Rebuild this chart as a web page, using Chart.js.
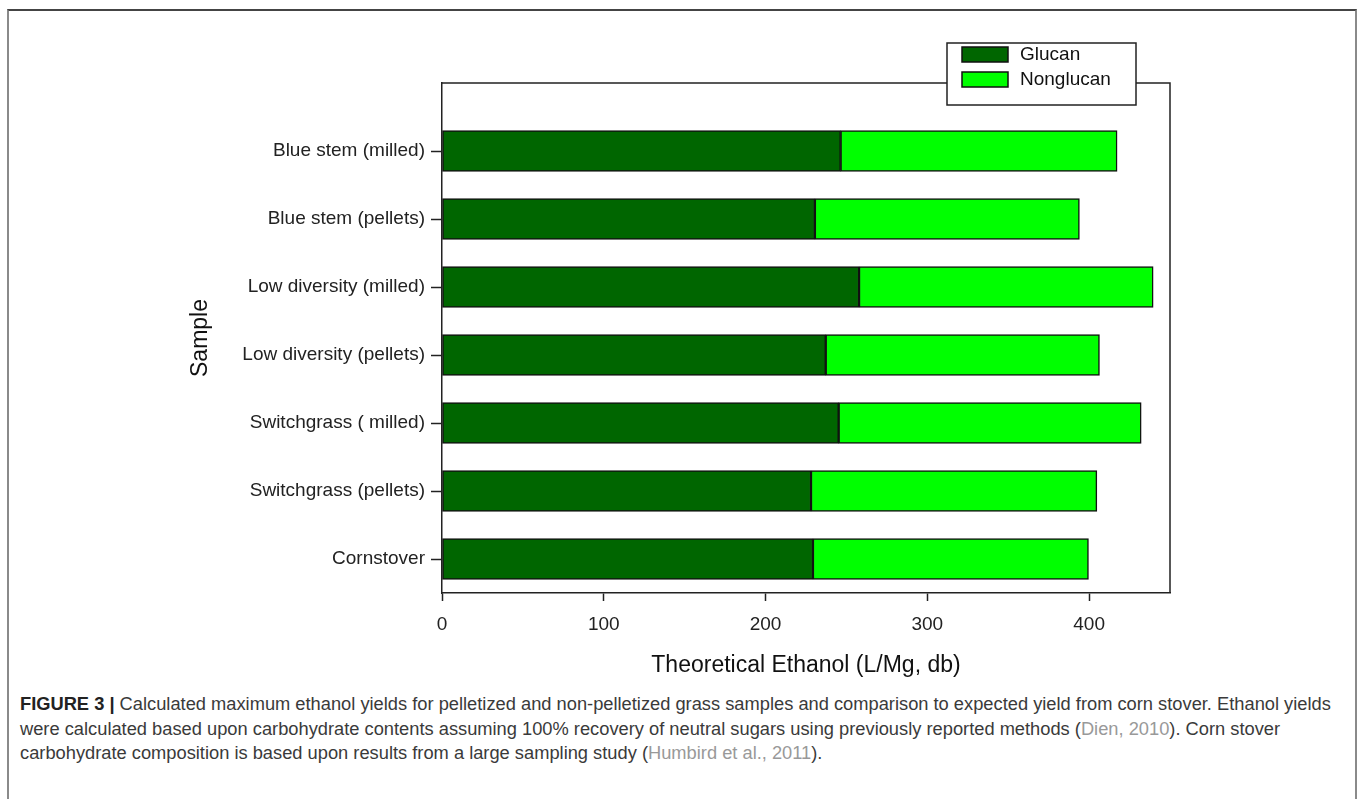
<!DOCTYPE html>
<html>
<head>
<meta charset="utf-8">
<script src="https://cdn.jsdelivr.net/npm/chart.js@4.4.1/dist/chart.umd.min.js"></script>
<style>
  html, body { margin: 0; padding: 0; background: #fff; width: 1360px; height: 799px; overflow: hidden; }
  #frame {
    position: absolute; left: 7px; top: 9px; width: 1346px; height: 820px;
    border-left: 2px solid #8a8a8a; border-right: 2px solid #8a8a8a; border-top: 2px solid #444;
  }
  #wrap { position: absolute; left: 0; top: 0; width: 1360px; height: 690px; }
  #caption {
    position: absolute; left: 20px; top: 692px; width: 1335px;
    font-family: "Liberation Sans", Arial, sans-serif; font-size: 18.3px; line-height: 24.5px;
    color: #3a3a3a; white-space: nowrap;
  }
  #caption b { color: #222; }
  #caption .ref { color: #999; }
</style>
</head>
<body>
<div id="frame"></div>
<div id="wrap"><canvas id="ethanolChart"></canvas></div>
<div id="caption">
  <b>FIGURE 3 |</b> Calculated maximum ethanol yields for pelletized and non-pelletized grass samples and comparison to expected yield from corn stover. Ethanol yields<br>
  were calculated based upon carbohydrate contents assuming 100% recovery of neutral sugars using previously reported methods (<span class="ref">Dien, 2010</span>). Corn stover<br>
  carbohydrate composition is based upon results from a large sampling study (<span class="ref">Humbird et al., 2011</span>).
</div>
<script>
// sample names, top to bottom
const samples = [
  'Blue stem (milled)',
  'Blue stem (pellets)',
  'Low diversity (milled)',
  'Low diversity (pellets)',
  'Switchgrass ( milled)',
  'Switchgrass (pellets)',
  'Cornstover'
];

// theoretical ethanol, L/Mg db
const glucan    = [246.4, 230.5, 257.8, 237.2, 245.2, 228.1, 229.3];
const nonglucan = [170.9, 163.5, 181.8, 169.2, 187.0, 176.7, 170.3];

const seriesNames = ['Glucan', 'Nonglucan'];
const seriesColors = ['#006600', '#00ff00'];

const xTicks = [0, 100, 200, 300, 400];

const axisColor = '#222';
const fontFam = '"Liberation Sans", Arial, sans-serif';

// box on the top and right of the plot area
const frameBox = {
  id: 'frameBox',
  afterDatasetsDraw(chart) {
    const {ctx, chartArea: a} = chart;
    ctx.save();
    ctx.strokeStyle = axisColor;
    ctx.lineWidth = 1.5;
    ctx.beginPath();
    ctx.moveTo(a.left, a.top);
    ctx.lineTo(a.right, a.top);
    ctx.lineTo(a.right, a.bottom);
    ctx.stroke();
    ctx.restore();
  }
};

// legend box sitting over the top edge of the plot frame
const boxLegend = {
  id: 'boxLegend',
  afterDraw(chart) {
    const {ctx, chartArea: a} = chart;
    const left = a.right - 223, top = a.top - 40, w = 189, h = 62;
    ctx.save();
    ctx.fillStyle = '#fff';
    ctx.fillRect(left, top, w, h);
    ctx.strokeStyle = axisColor;
    ctx.lineWidth = 1.5;
    ctx.strokeRect(left, top, w, h);
    ctx.font = '19px ' + fontFam;
    ctx.textBaseline = 'middle';
    chart.data.datasets.forEach((ds, i) => {
      const y = top + 4 + i * 25;
      ctx.fillStyle = ds.backgroundColor;
      ctx.fillRect(left + 15, y, 46, 15);
      ctx.strokeStyle = '#111';
      ctx.lineWidth = 1.5;
      ctx.strokeRect(left + 15, y, 46, 15);
      ctx.fillStyle = '#111';
      ctx.fillText(ds.label, left + 73, y + 8);
    });
    ctx.restore();
  }
};

const toPoints = arr => arr.map((v, i) => ({x: v, y: i + 1}));

new Chart(document.getElementById('ethanolChart'), {
  type: 'bar',
  data: {
    datasets: [
      {
        label: seriesNames[0],
        data: toPoints(glucan),
        backgroundColor: seriesColors[0],
        borderColor: '#111',
        borderWidth: 1.5,
        borderSkipped: false,
        barThickness: 41
      },
      {
        label: seriesNames[1],
        data: toPoints(nonglucan),
        backgroundColor: seriesColors[1],
        borderColor: '#111',
        borderWidth: 1.5,
        borderSkipped: false,
        barThickness: 41
      }
    ]
  },
  options: {
    indexAxis: 'y',
    responsive: true,
    maintainAspectRatio: false,
    animation: false,
    layout: { padding: { left: 0, right: 190, top: 83, bottom: 7 } },
    plugins: {
      legend: { display: false },
      tooltip: { enabled: false }
    },
    scales: {
      x: {
        type: 'linear',
        stacked: true,
        min: 0,
        max: 450,
        afterFit: s => { s.height = 90; },
        afterBuildTicks: s => { s.ticks = xTicks.map(v => ({value: v})); },
        grid: { drawOnChartArea: false, drawTicks: true, tickLength: 8, tickColor: axisColor, tickWidth: 1.5 },
        border: { display: true, color: axisColor, width: 1.5 },
        ticks: { color: '#222', padding: 12, font: { family: fontFam, size: 19 } },
        title: {
          display: true,
          text: 'Theoretical Ethanol (L/Mg, db)',
          color: '#111',
          padding: { top: 0, bottom: 4 },
          font: { family: fontFam, size: 23 }
        }
      },
      y: {
        type: 'linear',
        stacked: true,
        reverse: true,
        offset: false,
        min: 0,
        max: 7.5,
        afterFit: s => { s.width = 442; },
        afterBuildTicks: s => { s.ticks = samples.map((n, i) => ({value: i + 1})); },
        grid: { offset: false, drawOnChartArea: false, drawTicks: true, tickLength: 11, tickColor: axisColor, tickWidth: 1.5 },
        border: { display: true, color: axisColor, width: 1.5 },
        ticks: {
          color: '#222',
          padding: 6,
          font: { family: fontFam, size: 19 },
          callback: v => samples[v - 1]
        },
        title: {
          display: true,
          text: 'Sample',
          color: '#111',
          padding: { top: 187, bottom: 0 },
          font: { family: fontFam, size: 23 }
        }
      }
    }
  },
  plugins: [frameBox, boxLegend]
});
</script>
</body>
</html>
